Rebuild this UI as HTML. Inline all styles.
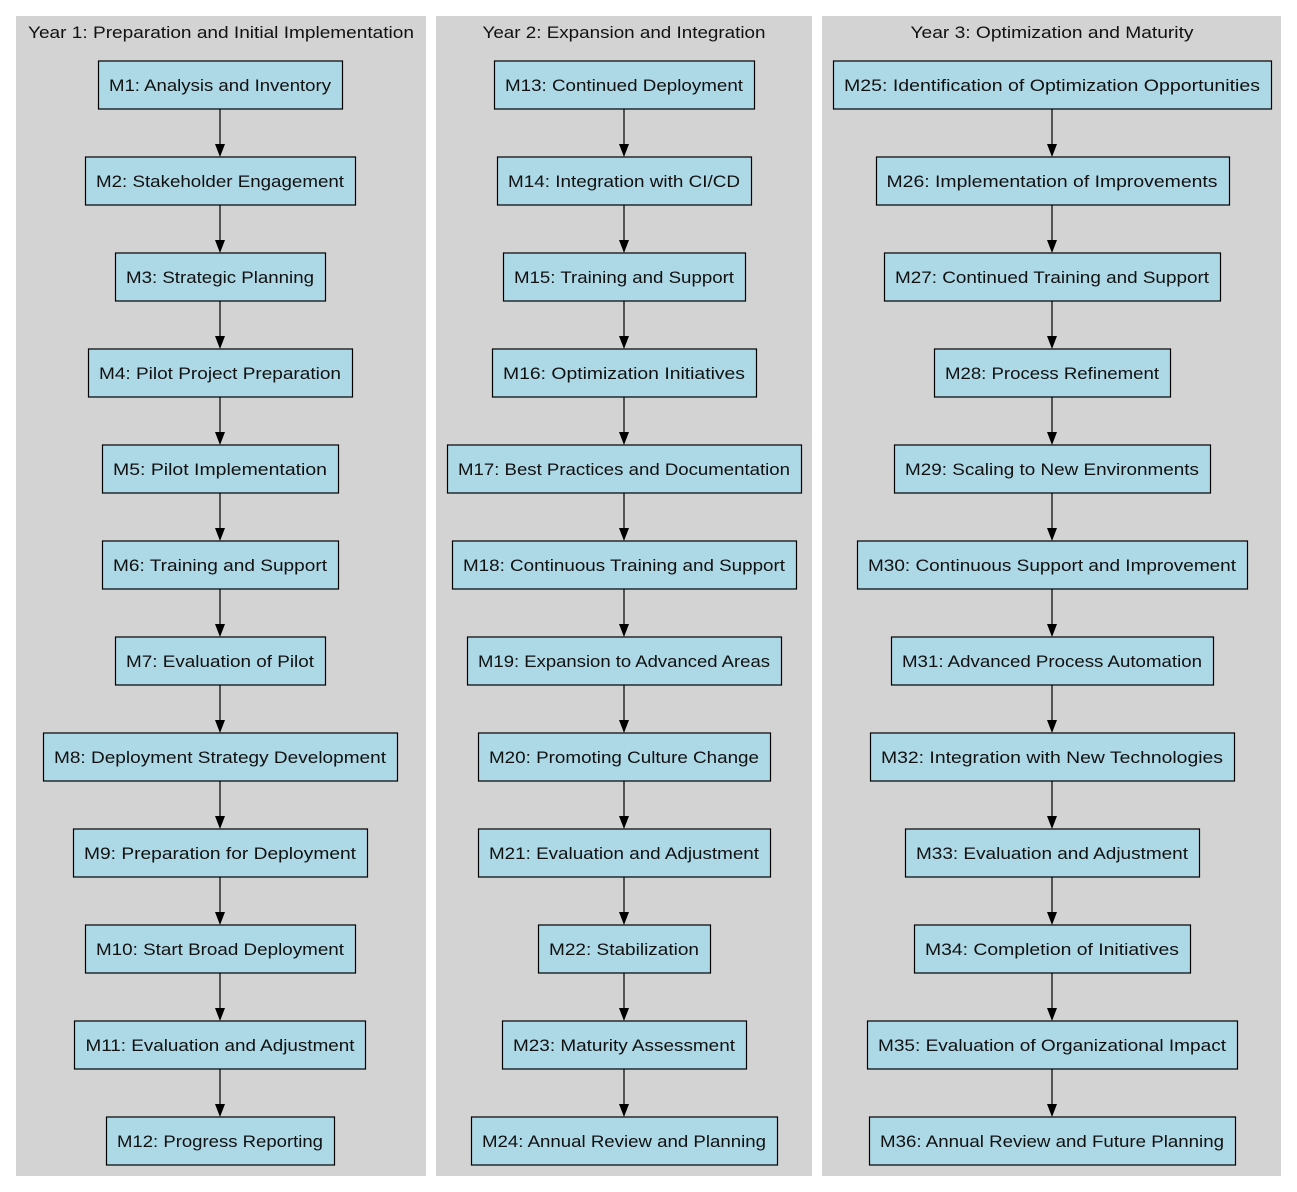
<!DOCTYPE html>
<html><head><meta charset="utf-8"><style>
html,body{margin:0;padding:0;background:#fff;}
svg{display:block;}
text{font-family:"Liberation Sans","DejaVu Sans",sans-serif;}
</style></head><body>
<svg id="s" width="1297" height="1192" xmlns="http://www.w3.org/2000/svg">
<rect x="16" y="16" width="410" height="1160" fill="#d3d3d3"/>
<rect x="436" y="16" width="376" height="1160" fill="#d3d3d3"/>
<rect x="822" y="16" width="459" height="1160" fill="#d3d3d3"/>
<g font-size="17" text-anchor="middle" fill="#111">
<text x="221" y="38" textLength="386" lengthAdjust="spacingAndGlyphs">Year 1: Preparation and Initial Implementation</text>
<text x="624" y="38" textLength="283" lengthAdjust="spacingAndGlyphs">Year 2: Expansion and Integration</text>
<text x="1052" y="38" textLength="283" lengthAdjust="spacingAndGlyphs">Year 3: Optimization and Maturity</text>
</g>
<g id="n"></g>
</svg>
<script>
var cols=[
[220,[[98,342,"M1: Analysis and Inventory"],[85,355,"M2: Stakeholder Engagement"],[115,325,"M3: Strategic Planning"],[88,352,"M4: Pilot Project Preparation"],[102,338,"M5: Pilot Implementation"],[102,338,"M6: Training and Support"],[115,325,"M7: Evaluation of Pilot"],[43,397,"M8: Deployment Strategy Development"],[73,367,"M9: Preparation for Deployment"],[85,355,"M10: Start Broad Deployment"],[74,365,"M11: Evaluation and Adjustment"],[106,334,"M12: Progress Reporting"]]],
[624,[[494,754,"M13: Continued Deployment"],[497,751,"M14: Integration with CI/CD"],[503,745,"M15: Training and Support"],[492,756,"M16: Optimization Initiatives"],[447,801,"M17: Best Practices and Documentation"],[452,796,"M18: Continuous Training and Support"],[467,781,"M19: Expansion to Advanced Areas"],[478,770,"M20: Promoting Culture Change"],[478,770,"M21: Evaluation and Adjustment"],[538,710,"M22: Stabilization"],[502,746,"M23: Maturity Assessment"],[471,777,"M24: Annual Review and Planning"]]],
[1052,[[833,1271,"M25: Identification of Optimization Opportunities"],[876,1229,"M26: Implementation of Improvements"],[884,1220,"M27: Continued Training and Support"],[934,1170,"M28: Process Refinement"],[894,1210,"M29: Scaling to New Environments"],[857,1247,"M30: Continuous Support and Improvement"],[891,1213,"M31: Advanced Process Automation"],[870,1234,"M32: Integration with New Technologies"],[905,1199,"M33: Evaluation and Adjustment"],[914,1190,"M34: Completion of Initiatives"],[867,1237,"M35: Evaluation of Organizational Impact"],[869,1235,"M36: Annual Review and Future Planning"]]]];
var h='';
cols.forEach(function(c){var cx=c[0];c[1].forEach(function(n,i){var y=61+96*i;
h+='<rect x="'+(n[0]+0.5)+'" y="'+y+'" width="'+(n[1]-n[0])+'" height="48" fill="#add8e6" stroke="#000" stroke-width="1.2"/>';
var w=n[1]-n[0]-22;
h+='<text x="'+cx+'" y="'+(y+30)+'" font-size="17" text-anchor="middle" fill="#111" textLength="'+w+'" lengthAdjust="spacingAndGlyphs">'+n[2]+'</text>';
if(i<11){h+='<line x1="'+cx+'" y1="'+(y+48)+'" x2="'+cx+'" y2="'+(y+84)+'" stroke="#000" stroke-width="1.2"/>';
h+='<polygon points="'+(cx-5)+','+(y+83)+' '+(cx+5)+','+(y+83)+' '+cx+','+(y+96)+'" fill="#000"/>';}
});});
document.getElementById('n').innerHTML=h;
</script>
</body></html>
